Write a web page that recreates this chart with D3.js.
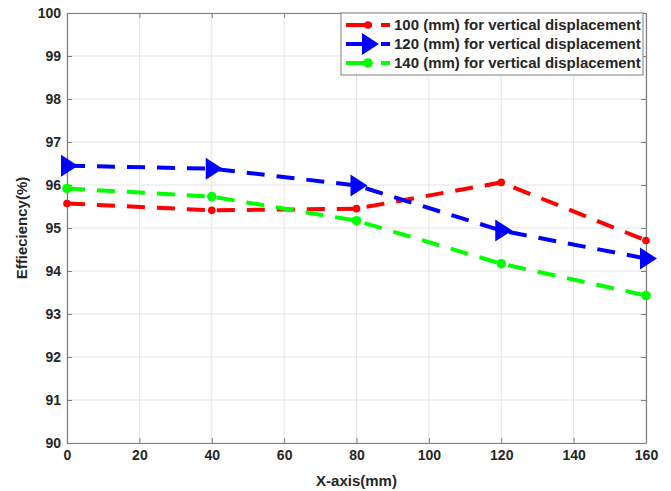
<!DOCTYPE html>
<html>
<head>
<meta charset="utf-8">
<script src="https://cdn.jsdelivr.net/npm/d3@7"></script>
<style>
  body { margin: 0; background: #fff; }
  text { font-family: Arial, "Liberation Sans", sans-serif; font-weight: bold; fill: #262626; }
</style>
</head>
<body>
<div id="chart"></div>
<script>
const xValues = [0, 40, 80, 120, 160];
const series100 = [95.57, 95.41, 95.45, 96.06, 94.71];
const series120 = [96.45, 96.38, 95.99, 94.94, 94.29];
const series140 = [95.92, 95.73, 95.17, 94.17, 93.43];
const xTicks = [0, 20, 40, 60, 80, 100, 120, 140, 160];
const yTicks = [90, 91, 92, 93, 94, 95, 96, 97, 98, 99, 100];
const seriesNames = [
    '100 (mm) for vertical displacement',
    '120 (mm) for vertical displacement',
    '140 (mm) for vertical displacement'
];

const width = 671, height = 491;
const margin = { top: 13, right: 25, bottom: 48, left: 67 };

const svg = d3.select('#chart').append('svg')
    .attr('width', width)
    .attr('height', height);

const x = d3.scaleLinear().domain([0, 160]).range([margin.left, width - margin.right]);
const y = d3.scaleLinear().domain([90, 100]).range([height - margin.bottom, margin.top]);

// grid
svg.append('g')
    .selectAll('line.vx')
    .data(xTicks)
    .enter().append('line')
    .attr('x1', d => x(d)).attr('x2', d => x(d))
    .attr('y1', y(90)).attr('y2', y(100))
    .attr('stroke', '#e3e3e3').attr('stroke-width', 1);

svg.append('g')
    .selectAll('line.hy')
    .data(yTicks)
    .enter().append('line')
    .attr('x1', x(0)).attr('x2', x(160))
    .attr('y1', d => y(d)).attr('y2', d => y(d))
    .attr('stroke', '#e3e3e3').attr('stroke-width', 1);

// axes
const xAxis = svg.append('g')
    .attr('transform', `translate(0,${y(90)})`)
    .call(d3.axisBottom(x).tickValues(xTicks).tickSizeInner(-5).tickSizeOuter(0).tickPadding(7));
const yAxis = svg.append('g')
    .attr('transform', `translate(${x(0)},0)`)
    .call(d3.axisLeft(y).tickValues(yTicks).tickSizeInner(-5).tickSizeOuter(0).tickPadding(6));
const xTop = svg.append('g')
    .attr('transform', `translate(0,${y(100)})`)
    .call(d3.axisTop(x).tickValues(xTicks).tickSizeInner(-5).tickSizeOuter(0).tickFormat(''));
const yRight = svg.append('g')
    .attr('transform', `translate(${x(160)},0)`)
    .call(d3.axisRight(y).tickValues(yTicks).tickSizeInner(-5).tickSizeOuter(0).tickFormat(''));

[xAxis, yAxis, xTop, yRight].forEach(a => {
    a.select('.domain').attr('stroke', '#7f7f7f').attr('stroke-width', 1.2);
    a.selectAll('.tick line').attr('stroke', '#7f7f7f');
    a.selectAll('text').style('font-size', '14px').attr('fill', '#262626');
});

// axis titles
svg.append('text')
    .attr('x', (x(0) + x(160)) / 2)
    .attr('y', 486)
    .attr('text-anchor', 'middle')
    .style('font-size', '15px')
    .text('X-axis(mm)');

svg.append('text')
    .attr('transform', `translate(27,${(y(90) + y(100)) / 2}) rotate(-90)`)
    .attr('text-anchor', 'middle')
    .style('font-size', '15px')
    .text('Effieciency(%)');

const series = [
    { name: seriesNames[0], values: series100, color: '#ff0000', marker: 'dot' },
    { name: seriesNames[1], values: series120, color: '#0000ff', marker: 'tri' },
    { name: seriesNames[2], values: series140, color: '#00ff00', marker: 'circle' }
];

const line = d3.line().x(d => x(d[0])).y(d => y(d[1]));

function drawMarker(g, px, py, s) {
    if (s.marker === 'tri') {
        g.append('path')
            .attr('d', `M${px - 6},${py - 11}L${px + 11},${py}L${px - 6},${py + 11}Z`)
            .attr('fill', s.color);
    } else {
        g.append('circle')
            .attr('cx', px).attr('cy', py)
            .attr('r', s.marker === 'circle' ? 4.8 : 3.8)
            .attr('fill', s.color);
    }
}

series.forEach(s => {
    const pts = xValues.map((v, i) => [v, s.values[i]]);
    svg.append('path')
        .datum(pts)
        .attr('d', line)
        .attr('fill', 'none')
        .attr('stroke', s.color)
        .attr('stroke-width', 4)
        .attr('stroke-dasharray', '18,12');
    const g = svg.append('g');
    pts.forEach(p => drawMarker(g, x(p[0]), y(p[1]), s));
});

// legend
const legend = svg.append('g');
legend.append('rect')
    .attr('x', 341).attr('y', 13)
    .attr('width', 302).attr('height', 62)
    .attr('fill', '#fff')
    .attr('stroke', '#7f7f7f')
    .attr('stroke-width', 1);

series.forEach((s, i) => {
    const ly = 25 + i * 19;
    legend.append('line')
        .attr('x1', 346).attr('x2', 372)
        .attr('y1', ly).attr('y2', ly)
        .attr('stroke', s.color).attr('stroke-width', 4);
    legend.append('line')
        .attr('x1', 381).attr('x2', 390)
        .attr('y1', ly).attr('y2', ly)
        .attr('stroke', s.color).attr('stroke-width', 4);
    drawMarker(legend, 368, ly, s);
    legend.append('text')
        .attr('x', 394).attr('y', ly + 5)
        .style('font-size', '15px')
        .attr('fill', '#000')
        .text(s.name);
});
</script>
</body>
</html>
